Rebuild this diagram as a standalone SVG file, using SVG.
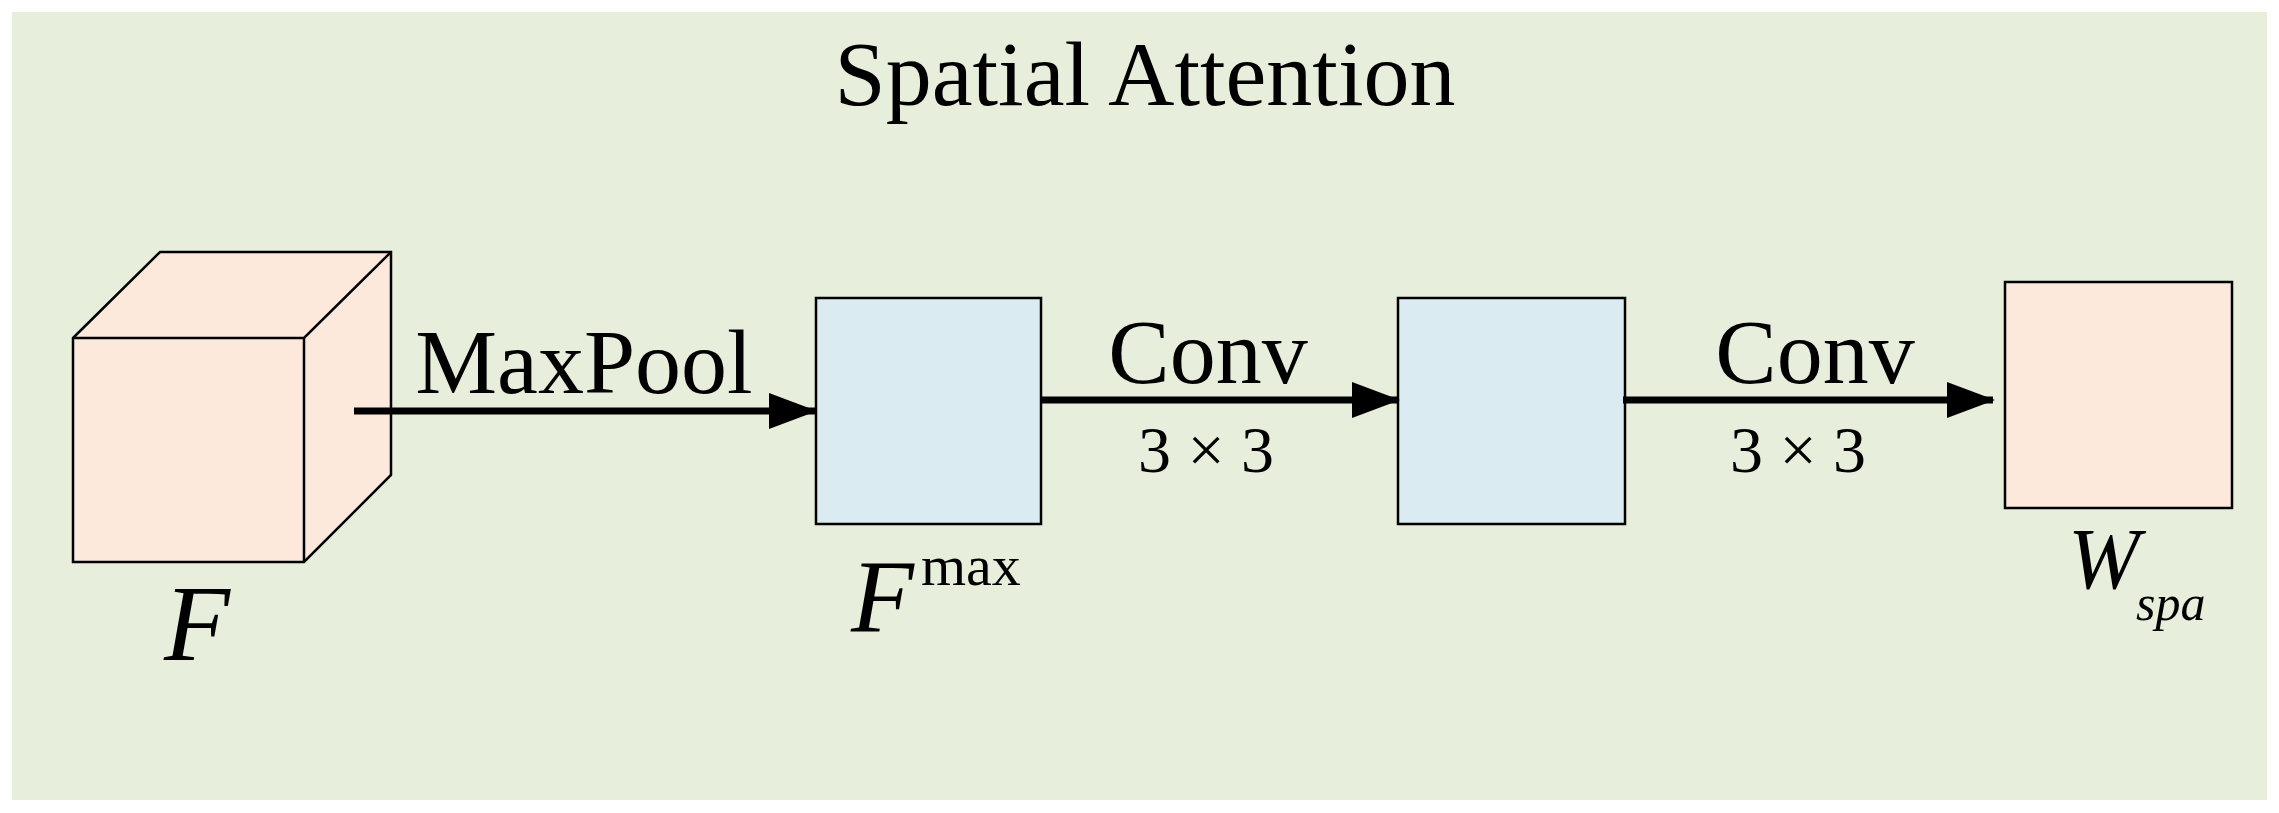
<svg xmlns="http://www.w3.org/2000/svg" width="2279" height="813" viewBox="0 0 2279 813">
<style>
.t{font-family:"Liberation Serif","Times New Roman",serif;fill:#000}
.i{font-style:italic}
.b{stroke:#000;stroke-width:2.5}
.c{stroke:#000;stroke-width:7;fill:none}
</style>
<defs><marker id="ah" markerUnits="userSpaceOnUse" markerWidth="48" markerHeight="36" refX="46" refY="18" orient="auto"><path d="M0,0 L48,18 L0,36 Z" fill="#000"/></marker></defs>
<rect width="2279" height="813" fill="#fff"/>
<rect x="12" y="12" width="2255" height="788" fill="#e8eedc"/>
<text class="t" x="1145" y="105" font-size="92" text-anchor="middle">Spatial Attention</text>
<g id="cube">
<path class="b" d="M73,338 L160,252 L391,252 L391,475 L304,562 L73,562 Z" fill="#fce9dc"/>
<path class="b" d="M73,338 L304,338 L391,252 M304,338 L304,562" fill="none"/>
<text class="t i" x="164" y="660" font-size="108">F</text>
</g>
<g id="fmax">
<rect class="b" x="816" y="298" width="225" height="226" fill="#daecf2"/>
<text class="t i" x="851" y="632" font-size="103">F</text>
<text class="t" x="921" y="585" font-size="58">max</text>
</g>
<g id="mid">
<rect class="b" x="1398" y="298" width="227" height="226" fill="#daecf2"/>
</g>
<g id="wspa">
<rect class="b" x="2005" y="282" width="227" height="226" fill="#fce9dc"/>
<text class="t i" x="2068" y="588" font-size="86">W</text>
<text class="t i" x="2136" y="620" font-size="50">spa</text>
</g>
<g id="connectors">
<line class="c" x1="354" y1="411" x2="815" y2="411" marker-end="url(#ah)"/>
<line class="c" x1="1041" y1="400" x2="1398" y2="400" marker-end="url(#ah)"/>
<line class="c" x1="1623" y1="400" x2="1993" y2="400" marker-end="url(#ah)"/>
<text class="t" x="584" y="393" font-size="92" text-anchor="middle">MaxPool</text>
<text class="t" x="1208" y="383" font-size="92" text-anchor="middle">Conv</text>
<text class="t" x="1206" y="472" font-size="66" text-anchor="middle">3 × 3</text>
<text class="t" x="1815" y="383" font-size="92" text-anchor="middle">Conv</text>
<text class="t" x="1798" y="472" font-size="66" text-anchor="middle">3 × 3</text>
</g>
</svg>
